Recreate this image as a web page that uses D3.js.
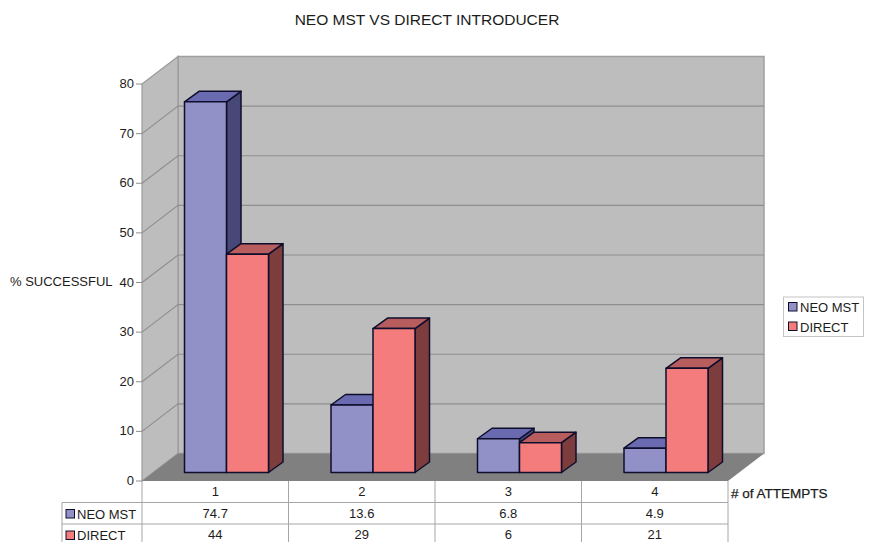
<!DOCTYPE html>
<html>
<head>
<meta charset="utf-8">
<script src="https://cdn.jsdelivr.net/npm/d3@7/dist/d3.min.js"></script>
<style>
html,body{margin:0;padding:0;background:#fff;overflow:hidden}
svg{display:block}
text{font-family:"Liberation Sans",Arial,sans-serif;fill:#1c1c1c}
</style>
</head>
<body>
<svg id="chart" width="869" height="542"></svg>
<script>
const attempts = ["1", "2", "3", "4"];
const seriesNames = ["NEO MST", "DIRECT"];
const neoMst = [74.7, 13.6, 6.8, 4.9];
const direct = [44, 29, 6, 21];
const neoLabels = ["74.7", "13.6", "6.8", "4.9"];
const directLabels = ["44", "29", "6", "21"];
const yTicks = [0, 10, 20, 30, 40, 50, 60, 70, 80];
const fills = [
  {front: "#9191c8", top: "#6a6ab0", side: "#484878"},
  {front: "#f57c7c", top: "#b85d5d", side: "#7e3d3d"}
];

const svg = d3.select("#chart");
const plotLeft = 142, plotRight = 728, plotBase = 481, plotTop = 84;
const wallDx = 36, wallDy = -27.5;   // depth of the chart box
const barDx = 14.5, barDy = -10.5;   // depth of each bar
const barLift = -8.5;                // bars stand part-way into the floor
const wallColor = "#bdbdbd", gridColor = "#8e8e8e", floorColor = "#808080";
const labelSize = 13;

const y = d3.scaleLinear().domain([0, 80]).range([plotBase, plotTop]);
const x = d3.scaleBand().domain(attempts).range([plotLeft, plotRight]);
const pts = a => a.map(p => p.join(",")).join(" ");

// Back wall, side wall and floor
svg.append("polygon")
  .attr("points", pts([[plotLeft + wallDx, y(80) + wallDy], [plotRight + wallDx, y(80) + wallDy], [plotRight + wallDx, plotBase + wallDy], [plotLeft + wallDx, plotBase + wallDy]]))
  .attr("fill", wallColor).attr("stroke", "#a0a0a0").attr("stroke-width", 1.5);
svg.append("polygon")
  .attr("points", pts([[plotLeft, y(80)], [plotLeft + wallDx, y(80) + wallDy], [plotLeft + wallDx, plotBase + wallDy], [plotLeft, plotBase]]))
  .attr("fill", wallColor).attr("stroke", "#9a9a9a").attr("stroke-width", 1.2);

// Gridlines wrapping the two walls
const grid = svg.append("g").attr("fill", "none").attr("stroke", gridColor).attr("stroke-width", 1.1);
yTicks.filter(t => t > 0 && t < 80).forEach(t => {
  grid.append("polyline").attr("points", pts([
    [plotLeft, y(t)], [plotLeft + wallDx, y(t) + wallDy], [plotRight + wallDx, y(t) + wallDy]
  ]));
});

svg.append("polygon")
  .attr("points", pts([[plotLeft, plotBase], [plotLeft + wallDx, plotBase + wallDy], [plotRight + wallDx, plotBase + wallDy], [plotRight, plotBase]]))
  .attr("fill", floorColor);

// Value axis
const axis = svg.append("g").attr("font-size", labelSize);
yTicks.forEach(t => {
  axis.append("line").attr("x1", plotLeft - 6).attr("x2", plotLeft).attr("y1", y(t)).attr("y2", y(t))
    .attr("stroke", "#8e8e8e").attr("stroke-width", 1);
  axis.append("text").attr("x", plotLeft - 8).attr("y", y(t) + 4).attr("text-anchor", "end").text(t);
});

// Bars, first series first so the second overlaps its side face
const barW = 42;
const barStart = 42.5;
[neoMst, direct].forEach((values, s) => {
  const g = svg.append("g").attr("stroke", "#0e0e2c").attr("stroke-width", 1.5).attr("stroke-linejoin", "round");
  values.forEach((v, i) => {
    const x0 = x(attempts[i]) + barStart + s * barW;
    const x1 = x0 + barW;
    const y0 = y(0) + barLift;
    const y1 = y(v) + barLift;
    g.append("polygon").attr("fill", fills[s].side)
      .attr("points", pts([[x1, y1], [x1 + barDx, y1 + barDy], [x1 + barDx, y0 + barDy], [x1, y0]]));
    g.append("polygon").attr("fill", fills[s].top)
      .attr("points", pts([[x0, y1], [x0 + barDx, y1 + barDy], [x1 + barDx, y1 + barDy], [x1, y1]]));
    g.append("rect").attr("fill", fills[s].front)
      .attr("x", x0).attr("y", y1).attr("width", barW).attr("height", y0 - y1);
  });
});

// Data table beneath the plot
const rowH = 21.5;
const table = svg.append("g").attr("stroke", "#a6a6a6").attr("stroke-width", 1).attr("fill", "none");
const tableLeft = 62;
attempts.concat(["end"]).forEach(c => {
  const px = c === "end" ? plotRight : x(c);
  table.append("line").attr("x1", px).attr("x2", px).attr("y1", plotBase).attr("y2", plotBase + rowH * 3);
});
table.append("line").attr("x1", tableLeft).attr("x2", tableLeft).attr("y1", plotBase + rowH).attr("y2", plotBase + rowH * 3);
[1, 2, 3].forEach(r => {
  table.append("line").attr("x1", tableLeft).attr("x2", plotRight).attr("y1", plotBase + rowH * r).attr("y2", plotBase + rowH * r);
});

const cells = svg.append("g").attr("font-size", labelSize).attr("text-anchor", "middle");
[attempts, neoLabels, directLabels].forEach((row, r) => {
  row.forEach((label, i) => {
    cells.append("text").attr("x", x(attempts[i]) + x.bandwidth() / 2)
      .attr("y", plotBase + rowH * r + 15).text(label);
  });
});

// Series keys in the table's row headers
seriesNames.forEach((name, s) => {
  const rowY = plotBase + rowH * (s + 1);
  svg.append("rect").attr("x", 66).attr("y", rowY + 7).attr("width", 8.5).attr("height", 8.5)
    .attr("fill", fills[s].front).attr("stroke", "#0e0e2c").attr("stroke-width", 1);
  svg.append("text").attr("x", 77).attr("y", rowY + 16).attr("font-size", labelSize).text(name);
});

// Legend
svg.append("rect").attr("x", 783.5).attr("y", 297).attr("width", 80).attr("height", 39.5)
  .attr("fill", "#fff").attr("stroke", "#c4c4c4").attr("stroke-width", 1);
seriesNames.forEach((name, s) => {
  const rowY = 302.5 + s * 19.5;
  svg.append("rect").attr("x", 788.5).attr("y", rowY).attr("width", 8.5).attr("height", 8.5)
    .attr("fill", fills[s].front).attr("stroke", "#0e0e2c").attr("stroke-width", 1);
  svg.append("text").attr("x", 800).attr("y", rowY + 9.5).attr("font-size", labelSize).text(name);
});

// Titles
svg.append("text").attr("x", 427).attr("y", 24.5).attr("text-anchor", "middle").attr("font-size", 15.5).text("NEO MST VS DIRECT INTRODUCER");
svg.append("text").attr("x", 10).attr("y", 286).attr("font-size", labelSize).text("% SUCCESSFUL");
svg.append("text").attr("x", 731).attr("y", 498).attr("font-size", 13.5).attr("stroke", "#1c1c1c").attr("stroke-width", 0.25).text("# of ATTEMPTS");
</script>
</body>
</html>
